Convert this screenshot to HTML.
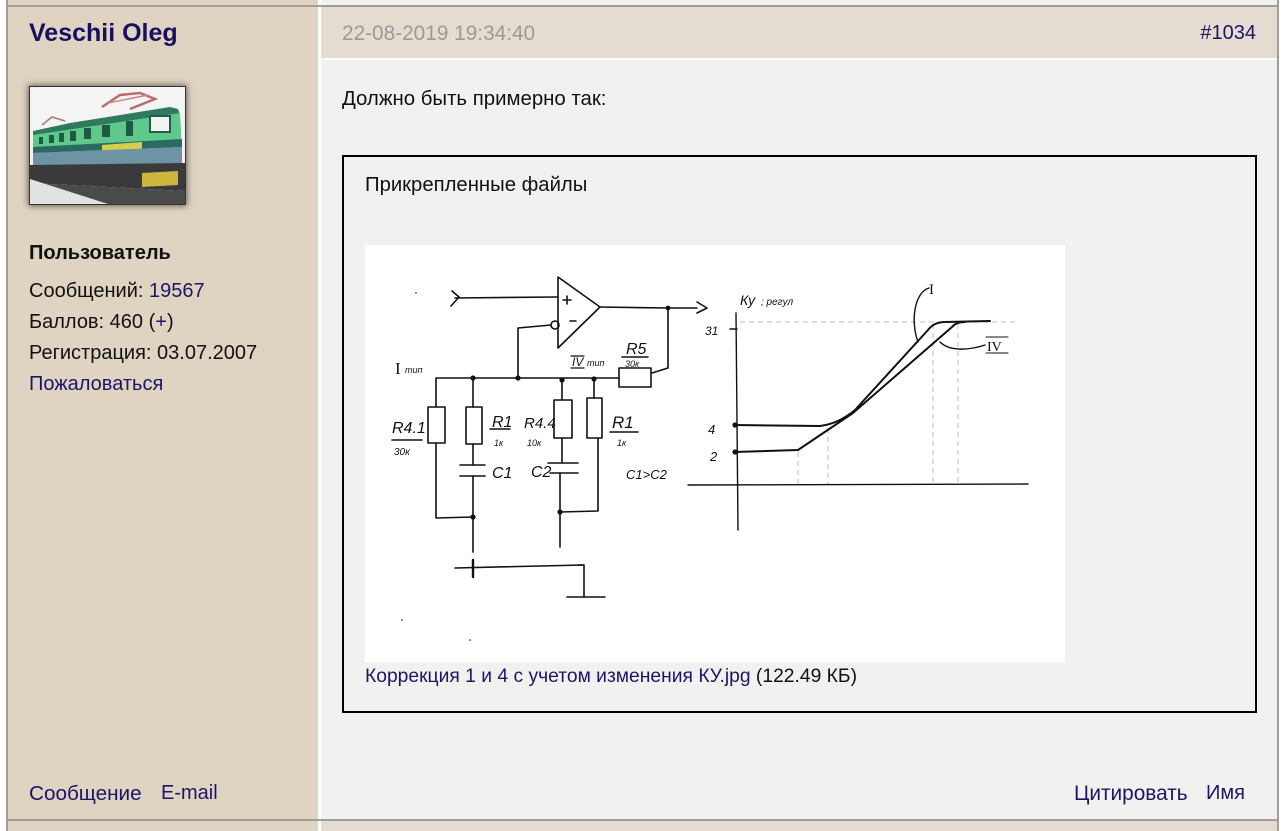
<!DOCTYPE html>
<html>
<head>
<meta charset="utf-8">
<style>
  html,body{margin:0;padding:0;background:#fff;}
  body{width:1284px;height:831px;position:relative;overflow:hidden;font-family:"Liberation Sans",Arial,sans-serif;}
  .a{position:absolute;}
  .t{position:absolute;white-space:nowrap;font-size:20px;line-height:23px;color:#111;}
  .lk{color:#1c1666;}
</style>
</head>
<body>
<!-- top strip (previous row) -->
<div class="a" style="left:8px;top:0;width:310px;height:5px;background:#dfd3c1;"></div>
<div class="a" style="left:321px;top:0;width:956px;height:5px;background:#f3f1ef;"></div>
<div class="a" style="left:6px;top:5px;width:1273px;height:2px;background:#a09d9b;"></div>

<!-- main row -->
<div class="a" style="left:8px;top:7px;width:310px;height:812px;background:#dfd3c1;"></div>
<div class="a" style="left:321px;top:7px;width:956px;height:51px;background:#e4dcd0;"></div>
<div class="a" style="left:321px;top:60px;width:956px;height:759px;background:#f3f1ef;"></div>

<!-- bottom line & next row -->
<div class="a" style="left:6px;top:819px;width:1273px;height:2px;background:#a09d9b;"></div>
<div class="a" style="left:8px;top:821px;width:310px;height:10px;background:#dfd3c1;"></div>
<div class="a" style="left:321px;top:821px;width:956px;height:10px;background:#e4dcd0;"></div>

<!-- side borders -->
<div class="a" style="left:6px;top:0;width:2px;height:831px;background:#a09d9b;"></div>
<div class="a" style="left:1277px;top:0;width:2px;height:831px;background:#a09d9b;"></div>

<!-- left column -->
<div class="t" style="left:29px;top:19px;font-size:25px;line-height:29px;font-weight:bold;color:#1a0f5e;">Veschii Oleg</div>

<div class="a" style="left:29px;top:86px;width:155px;height:117px;border:1px solid #333;box-shadow:0 0 6px 1px rgba(0,0,0,0.55);background:#f2f2f2;overflow:hidden;">
  <svg width="155" height="117" viewBox="0 0 155 117">
    <rect x="0" y="0" width="155" height="117" fill="#f4f4f4"/>
    <!-- pantographs -->
    <polyline points="72,20 90,8 110,6 125,12 100,22" fill="none" stroke="#b86d66" stroke-width="2.5"/>
    <polyline points="78,16 118,8" stroke="#c98a84" stroke-width="1.5" fill="none"/>
    <polyline points="12,38 22,30 35,34" fill="none" stroke="#a77" stroke-width="1.5"/>
    <!-- roof -->
    <polygon points="3,44 40,36 140,20 148,22 150,28 3,50" fill="#2f7a5f"/>
    <!-- green body -->
    <polygon points="3,48 150,26 152,62 3,66" fill="#5ec98a"/>
    <!-- windows -->
    <rect x="9" y="50" width="4" height="7" fill="#1f5a45"/>
    <rect x="19" y="48" width="5" height="8" fill="#1f5a45"/>
    <rect x="29" y="46" width="5" height="9" fill="#1f5a45"/>
    <rect x="40" y="44" width="6" height="10" fill="#1f5a45"/>
    <rect x="54" y="41" width="7" height="11" fill="#1f5a45"/>
    <rect x="72" y="38" width="8" height="12" fill="#1f5a45"/>
    <rect x="96" y="34" width="7" height="15" fill="#1f5a45"/>
    <rect x="120" y="29" width="20" height="16" fill="#eef4f2" stroke="#245c4a" stroke-width="2"/>
    <!-- stripes -->
    <polygon points="3,60 152,52 152,60 3,66" fill="#2b6a63"/>
    <polygon points="72,58 112,55 112,62 72,65" fill="#d6cf4c"/>
    <polygon points="3,66 152,60 152,78 3,80" fill="#6d93a5"/>
    <!-- undercarriage -->
    <polygon points="0,78 155,76 155,104 0,96" fill="#3a3a3d"/>
    <polygon points="112,86 148,84 148,98 112,100" fill="#cdb63e"/>
    <!-- ground -->
    <polygon points="0,96 155,104 155,117 0,117" fill="#4a4a4a"/>
    <polygon points="0,92 78,117 0,117" fill="#e2e2e2"/>
  </svg>
</div>

<div class="t" style="left:29px;top:242px;font-weight:bold;">Пользователь</div>
<div class="t" style="left:29px;top:280px;">Сообщений: <span class="lk">19567</span></div>
<div class="t" style="left:29px;top:311px;">Баллов: 460 (<span class="lk">+</span>)</div>
<div class="t" style="left:29px;top:342px;">Регистрация: 03.07.2007</div>
<div class="t lk" style="left:29px;top:373px;">Пожаловаться</div>

<div class="t lk" style="left:29px;top:782px;font-size:20.7px;">Сообщение</div>
<div class="t lk" style="left:161px;top:782px;">E-mail</div>

<!-- right header -->
<div class="t" style="left:342px;top:22px;color:#9a9a9a;font-size:20.8px;">22-08-2019 19:34:40</div>
<div class="t lk" style="right:28px;top:22px;">#1034</div>

<!-- post body -->
<div class="t" style="left:342px;top:88px;font-size:20.4px;">Должно быть примерно так:</div>

<div class="a" style="left:342px;top:155px;width:911px;height:554px;border:2px solid #000;"></div>
<div class="t" style="left:365px;top:174px;font-size:20.3px;">Прикрепленные файлы</div>

<svg class="a" style="left:365px;top:245px;" width="700" height="417" viewBox="365 245 700 417">
  <rect x="365" y="245" width="700" height="417" fill="#fff"/>
  <g fill="none" stroke="#111" stroke-width="1.6" stroke-linecap="round" stroke-linejoin="round">
    <!-- input -->
    <polyline points="452,291 459,297 451,306"/>
    <line x1="455" y1="298" x2="558" y2="297"/>
    <!-- op amp -->
    <polygon points="558,277 600,307 558,348"/>
    <line x1="570" y1="321" x2="576" y2="321"/>
    <line x1="567" y1="296" x2="567" y2="304"/>
    <line x1="563" y1="300" x2="571" y2="300"/>
    <circle cx="555" cy="325" r="4"/>
    <polyline points="551,325 518,328 518,378"/>
    <!-- output -->
    <polyline points="600,307 668,308 697,308"/>
    <polyline points="697,302 707,308 697,313"/>
    <polyline points="668,308 668,368 652,373"/>
    <rect x="619" y="368" width="32" height="19"/>
    <!-- bus -->
    <polyline points="436,407 436,378 619,378"/>
    <!-- R4.1 -->
    <rect x="428" y="407" width="17" height="36"/>
    <polyline points="436,443 436,518 473,517"/>
    <!-- R1 + C1 -->
    <line x1="473" y1="378" x2="473" y2="407"/>
    <rect x="466" y="407" width="16" height="37"/>
    <line x1="473" y1="444" x2="473" y2="465"/>
    <line x1="460" y1="465" x2="485" y2="465"/>
    <line x1="460" y1="476" x2="485" y2="476"/>
    <line x1="473" y1="476" x2="473" y2="552"/>
    <!-- R4.4 + C2 -->
    <line x1="562" y1="380" x2="562" y2="400"/>
    <rect x="554" y="400" width="18" height="38"/>
    <line x1="562" y1="438" x2="562" y2="463"/>
    <line x1="548" y1="463" x2="578" y2="463"/>
    <line x1="550" y1="473" x2="578" y2="473"/>
    <line x1="560" y1="473" x2="560" y2="547"/>
    <polyline points="560,512 598,511 598,438"/>
    <!-- R1 second -->
    <line x1="594" y1="379" x2="594" y2="398"/>
    <rect x="587" y="398" width="15" height="40"/>
    <!-- ground -->
    <line x1="455" y1="568" x2="583" y2="565"/>
    <line x1="473" y1="560" x2="473" y2="577" stroke-width="2.4"/>
    <polyline points="578,565 584,565 584,597"/>
    <line x1="567" y1="597" x2="605" y2="597"/>
    <!-- label lines -->
    <line x1="622" y1="357" x2="648" y2="357"/>
    <line x1="392" y1="440" x2="422" y2="440"/>
    <line x1="490" y1="429" x2="510" y2="429"/>
    <line x1="610" y1="432" x2="638" y2="432"/>
    <line x1="571" y1="356" x2="584" y2="356" stroke-width="1.2"/>
    <line x1="571" y1="368" x2="584" y2="368" stroke-width="1.2"/>
  </g>
  <g fill="#111">
    <circle cx="473" cy="378" r="2.6"/>
    <circle cx="518" cy="378" r="2.6"/>
    <circle cx="562" cy="380" r="2.6"/>
    <circle cx="594" cy="379" r="2.6"/>
    <circle cx="668" cy="308" r="2.4"/>
    <circle cx="473" cy="517" r="2.6"/>
    <circle cx="560" cy="512" r="2.6"/>
    <circle cx="416" cy="293" r="0.8"/>
    <circle cx="470" cy="640" r="0.8"/>
    <circle cx="402" cy="620" r="0.8"/>
  </g>
  <g fill="#111" font-family="Liberation Sans, sans-serif" font-style="italic">
    <text x="405" y="373" font-size="9">тип</text>
    <text x="572" y="366" font-size="12">IV</text>
    <text x="587" y="366" font-size="9">тип</text>
    <text x="626" y="354" font-size="16">R5</text>
    <text x="625" y="367" font-size="9">30к</text>
    <text x="392" y="433" font-size="16">R4.1</text>
    <text x="394" y="455" font-size="10">30к</text>
    <text x="492" y="427" font-size="16">R1</text>
    <text x="494" y="446" font-size="9">1к</text>
    <text x="524" y="428" font-size="15">R4.4</text>
    <text x="527" y="446" font-size="9">10к</text>
    <text x="612" y="428" font-size="17">R1</text>
    <text x="617" y="446" font-size="9">1к</text>
    <text x="492" y="478" font-size="16">C1</text>
    <text x="531" y="477" font-size="16">C2</text>
    <text x="626" y="479" font-size="13">C1&gt;C2</text>
    <text x="740" y="305" font-size="14">Ку</text>
    <text x="761" y="305" font-size="10">; регул</text>
    <text x="705" y="335" font-size="12">31</text>
    <text x="708" y="434" font-size="13">4</text>
    <text x="710" y="461" font-size="13">2</text>
  </g>
  <g fill="#111" font-family="Liberation Serif, serif">
    <text x="395" y="374" font-size="17">I</text>
    <text x="929" y="294" font-size="15">I</text>
    <text x="987" y="351" font-size="14">IV</text>
  </g>
  <!-- graph -->
  <g fill="none" stroke="#bbb" stroke-width="1" stroke-dasharray="5 4">
    <line x1="740" y1="322" x2="1017" y2="322"/>
    <line x1="798" y1="452" x2="798" y2="484"/>
    <line x1="828" y1="428" x2="828" y2="484"/>
    <line x1="933" y1="324" x2="933" y2="484"/>
    <line x1="958" y1="324" x2="958" y2="484"/>
  </g>
  <g fill="none" stroke="#111" stroke-width="1.4" stroke-linecap="round">
    <line x1="736" y1="313" x2="738" y2="530"/>
    <line x1="688" y1="485" x2="1028" y2="484"/>
    <line x1="730" y1="329" x2="737" y2="329"/>
    <path d="M929,288 C915,292 910,320 918,342"/>
    <path d="M985,345 C970,350 950,352 940,342"/>
    <line x1="986" y1="337" x2="1008" y2="337" stroke-width="1.1"/>
    <line x1="986" y1="353" x2="1008" y2="353" stroke-width="1.1"/>
  </g>
  <g fill="none" stroke="#111" stroke-width="2" stroke-linecap="round" stroke-linejoin="round">
    <path d="M735,425 L820,426 C835,424 845,418 855,410 L928,330 Q934,322 945,322 L990,321"/>
    <path d="M735,452 L798,450 L853,413 L952,327 Q956,322 965,322"/>
  </g>
  <g fill="#111">
    <circle cx="735" cy="425" r="2.6"/>
    <circle cx="735" cy="452" r="2.6"/>
  </g>
</svg>

<div class="t" style="left:365px;top:666px;font-size:19.3px;line-height:22px;"><span class="lk">Коррекция 1 и 4 с учетом изменения КУ.jpg</span> (122.49 КБ)</div>

<!-- footer links -->
<div class="t lk" style="left:1074px;top:782px;font-size:20.8px;">Цитировать</div>
<div class="t lk" style="left:1206px;top:782px;">Имя</div>
</body>
</html>
